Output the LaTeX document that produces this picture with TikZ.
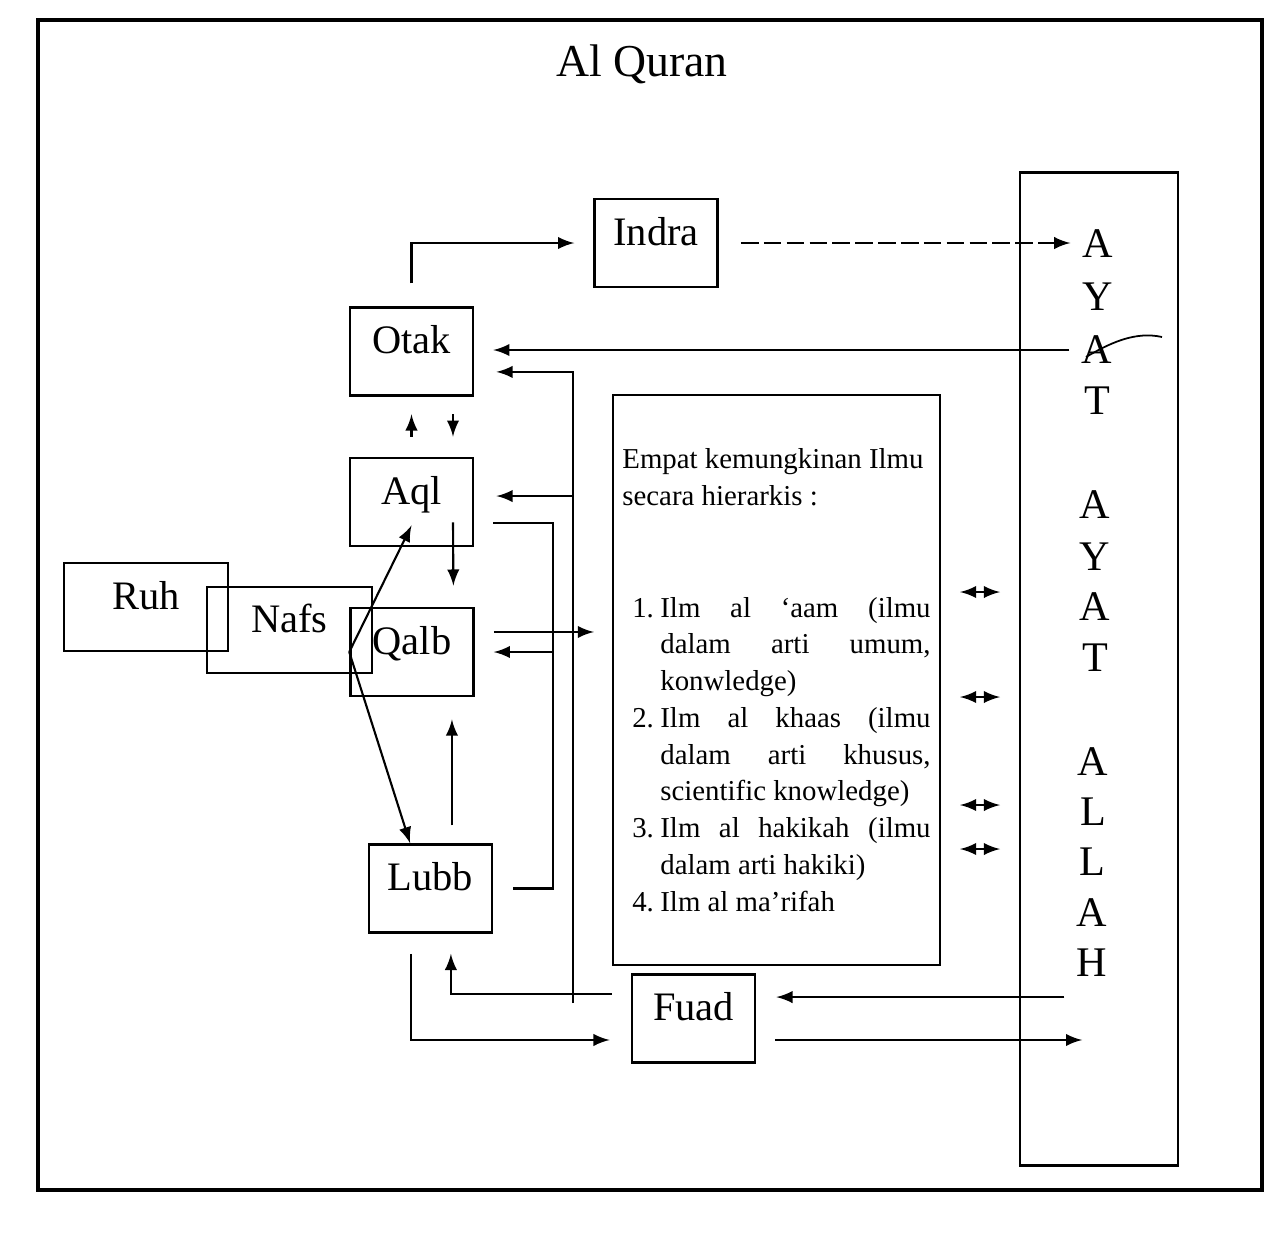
\documentclass[tikz,border=0pt]{standalone}
\usepackage{fontspec}
\setmainfont{Liberation Serif}
\usepackage{tikz}
\newcommand{\ilmuitem}[1]{\par\hangindent=8pt\hangafter=1\makebox[8pt][l]{#1}}

\begin{document}
\begin{tikzpicture}[x=0.01cm, y=-0.01cm, >=latex]
					\tikzstyle{box} = [draw=black, line width=0.7pt, minimum width=1.23cm, minimum height=0.88cm, text height=9pt, text depth=7.6pt, font=\fontsize{11.5}{13}\selectfont]
					\tikzstyle{letter} = [font=\fontsize{12}{14}\selectfont]
					\tikzstyle{edge} = [->, line width=0.6pt]
					\useasboundingbox (0,0) rectangle (1280,1236);
					\draw[line width=1.1pt] (38,20) rectangle (1262,1190);
					\node[font=\fontsize{13}{15}\selectfont] (quran) at (642,64) {Al Quran};
					\node[box] (indra) at (656,243) {Indra};
					\node[box] (otak) at (411.5,351.5) {Otak};
					\node[box] (aql) at (411.5,502) {Aql};
					\node[box] (qalb) at (412,652) {Qalb};
					\node[box] (lubb) at (430.5,888.5) {Lubb};
					\node[box] (fuad) at (693.5,1018.5) {Fuad};
					\node[box,minimum width=1.64cm] (ruh) at (146,607) {Ruh};
					\node[box,minimum width=1.65cm,minimum height=0.86cm] (nafs) at (289.5,630) {Nafs};
					\node[draw=black, line width=0.7pt, minimum width=1.58cm, minimum height=9.92cm] (ayat) at (1099,669) {};
					\foreach \ch/\xx/\yy/\nm in {A/1098/244/a1, Y/1098/297/y1, A/1097/350/a2, T/1097/401/t1, A/1095/505/a3, Y/1095/557/y2, A/1095/607/a4, T/1095/658/t2, A/1093/762/a5, L/1093/812/l1, L/1092/862/l2, A/1092/913/a6, H/1092/963/h1}
						\node[letter] (\nm) at (\xx,\yy) {\ch};
					\node[draw=black, line width=0.6pt, minimum width=3.27cm, minimum height=5.70cm, inner sep=0pt, font=\fontsize{8.2}{10.45}\selectfont] (ilmu) at (776.5,680) {\begin{minipage}{3.08cm}
						Empat kemungkinan Ilmu\par
						secara hierarkis :\par
						\vspace{21.4pt}
						\leftskip=2.8pt
						\ilmuitem{1.}Ilm al ‘aam (ilmu\linebreak dalam arti umum,\linebreak konwledge)
						\ilmuitem{2.}Ilm al khaas (ilmu\linebreak dalam arti khusus,\linebreak scientific knowledge)
						\ilmuitem{3.}Ilm al hakikah (ilmu\linebreak dalam arti hakiki)
						\ilmuitem{4.}Ilm al ma’rifah\par
					\end{minipage}};
					\draw[edge, shorten <=6.5pt, shorten >=5.4pt] (otak.north) |- (indra.west);
					\draw[edge, dash pattern=on 5pt off 1.5pt, shorten <=6.3pt] (indra.east) -- (indra.east -| a1.west);
					\draw[edge, shorten >=5.4pt] (a2.west) -- (a2.west -| otak.east);
					\draw[line width=0.5pt] (1086,357) .. controls (1110,343) and (1135,331) .. (1162,337);
					\coordinate (fbus) at (573,1003);
					\draw[edge, shorten <=5.4pt, shorten >=5.7pt] ([yshift=7pt]fuad.west) -| ([xshift=5.8pt]lubb.south);
					\draw[edge, shorten >=6.3pt] (fbus) |- ([yshift=-5.8pt]otak.east);
					\coordinate (aqlin) at ([yshift=1.7pt]aql.east);
					\draw[edge, shorten >=6.3pt] (aqlin -| fbus) -- (aqlin);
					\coordinate (aqlout) at ([yshift=-6pt]aql.east);
					\coordinate (lbus) at (553,700);
					\draw[line width=0.6pt, shorten <=5.4pt, shorten >=5.7pt] (aqlout) -| (lbus) |- (lubb.east);
					\draw[edge, shorten >=5.4pt] (qalb.east -| lbus) -- (qalb.east);
					\coordinate (qalbout) at ([yshift=5.7pt]qalb.east);
					\draw[edge, shorten <=5.4pt, shorten >=5.1pt] (qalbout) -- (qalbout -| ilmu.west);
					\draw[edge, shorten <=5.7pt, shorten >=5pt] (aql.north) -- (otak.south);
					\draw[edge, shorten <=5pt, shorten >=5.7pt] ([xshift=11.8pt]otak.south) -- ([xshift=11.8pt]aql.north);
					\draw[edge, shorten >=6pt] ([xshift=11.8pt,yshift=7.1pt]aql.south) -- ([xshift=11.8pt]qalb.north);
					\coordinate (lubbup) at ([xshift=6.1pt]lubb.north);
					\draw[edge, shorten <=5.1pt, shorten >=6.3pt] (lubbup) -- (lubbup |- qalb.south);
					\draw[edge, shorten <=5.7pt, shorten >=6pt] ([xshift=-5.5pt]lubb.south) |- ([yshift=-6.1pt]fuad.west);
					\coordinate (fuadout) at ([yshift=-6.1pt]fuad.east);
					\draw[edge, shorten <=5.4pt, shorten >=2.8pt] (fuadout) -- (fuadout -| h1);
					\coordinate (fuadin) at ([yshift=6.1pt]fuad.east);
					\draw[edge, shorten >=5.7pt] (fuadin -| h1.west) -- (fuadin);
					\draw[edge] (qalb.west) -- ([yshift=6.2pt]aql.south);
					\draw[edge] (qalb.west) -- ([xshift=-5.8pt]lubb.north);
					\foreach \yy in {592,697,805,849}
						\draw[<->, line width=0.6pt] (960,\yy) -- (1000,\yy);
					\end{tikzpicture}
\end{document}
